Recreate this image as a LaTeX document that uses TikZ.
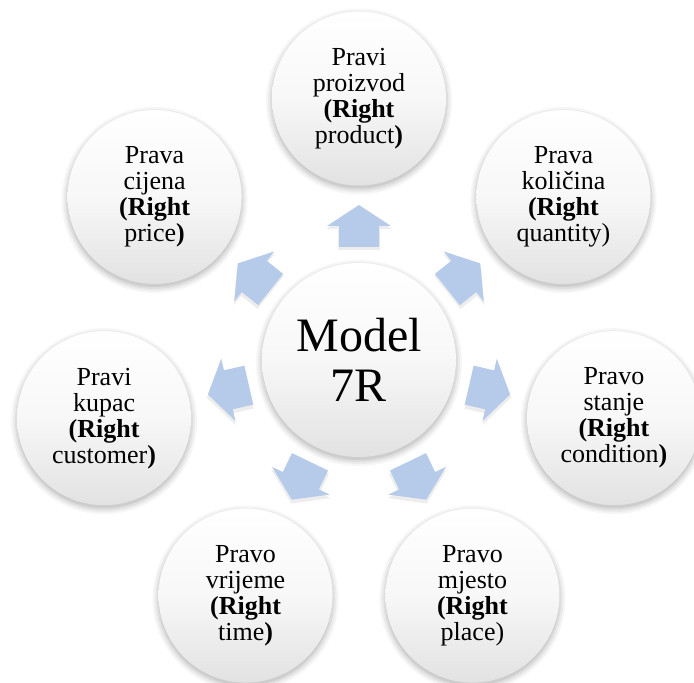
\documentclass[tikz,border=0pt]{standalone}
\usepackage{fontspec}
\setmainfont{Liberation Serif}
\definecolor{arrowblue}{RGB}{182,203,234}
\definecolor{arrowdark}{RGB}{166,188,224}
\definecolor{bubblebottom}{RGB}{226,226,226}
\tikzset{
  bubble/.style={circle, minimum size=174pt, inner sep=0pt, align=center,
    top color=white, bottom color=bubblebottom, middle color=white!97!black,
    font=\fontsize{26}{26}\selectfont},
  hub/.style={circle, minimum size=194pt, inner sep=0pt, align=center,
    top color=white, bottom color=bubblebottom, middle color=white!97!black,
    font=\fontsize{48}{50}\selectfont},
  arrowshape/.style={fill=arrowblue},
  arrowshadow/.style={fill=black, opacity=0.07},
}
\begin{document}
\begin{tikzpicture}[x=1pt,y=1pt]
\useasboundingbox (0,0) rectangle (694,683);
\coordinate (C) at (359,323);
% soft shadows of circles
\foreach \a in {90,38.571,-12.857,-64.286,-115.714,-167.143,141.429}{
  \foreach \k/\o in {6/0.035,4/0.045,2/0.06,0/0.07}
    \fill[black,opacity=\o] ([shift={(\a:261.5)}]C) ++(0,-3) circle (87+\k);
}
\foreach \k/\o in {6/0.035,4/0.045,2/0.06,0/0.07}
  \fill[black,opacity=\o] (C) ++(0,-3) circle (97+\k);
% arrows
\foreach \a in {90,38.571,-12.857,-64.286,-115.714,-167.143,141.429}{
  \begin{scope}[shift={(C)}, yshift=-3pt, rotate=\a]
    \fill[arrowshadow] (113,-21) -- (134,-21) -- (134,-33) -- (156,0) -- (134,33) -- (134,21) -- (113,21) -- cycle;
  \end{scope}
  \begin{scope}[shift={(C)}, rotate=\a]
    \fill[arrowshape] (113,-20) -- (134,-20) -- (134,-32) -- (155,0) -- (134,32) -- (134,20) -- (113,20) -- cycle;
  \end{scope}
}
% outer circles
\node[bubble] (prod) at ([shift={(90:261.5)}]C) {Pravi\\proizvod\\\textbf{(Right}\\product\textbf{)}};
\node[bubble] (qty) at ([shift={(38.571:261.5)}]C) {Prava\\količina\\\textbf{(Right}\\quantity)};
\node[bubble] (cond) at ([shift={(-12.857:261.5)}]C) {Pravo\\stanje\\\textbf{(Right}\\condition\textbf{)}};
\node[bubble] (place) at ([shift={(-64.286:261.5)}]C) {Pravo\\mjesto\\\textbf{(Right}\\place)};
\node[bubble] (time) at ([shift={(-115.714:261.5)}]C) {Pravo\\vrijeme\\\textbf{(Right}\\time\textbf{)}};
\node[bubble] (cust) at ([shift={(-167.143:261.5)}]C) {Pravi\\kupac\\\textbf{(Right}\\customer\textbf{)}};
\node[bubble] (price) at ([shift={(141.429:261.5)}]C) {Prava\\cijena\\\textbf{(Right}\\price\textbf{)}};
% centre
\node[hub] (model) at (C) {Model\\7R};
\end{tikzpicture}
\end{document}
